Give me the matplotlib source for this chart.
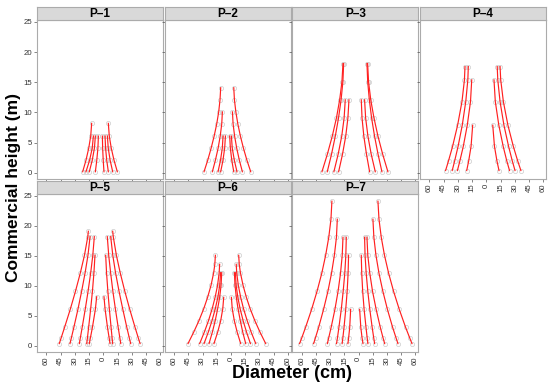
import numpy as np
import matplotlib
matplotlib.use("Agg")
import matplotlib.pyplot as plt

plt.rcParams['font.family'] = ['Liberation Sans', 'DejaVu Sans']

nan = np.nan

# ---------------- data (diameter in cm, mirrored left/right; height in m) ----------------
p1_h = [0.2, 2.1, 4.1, 6.1, 8.2]
p1_left = [
    [-21.8, -18.3, -15.4, -13.3, -12.3],
    [-18.3, -14.5, -11.7, -10.5, nan],
    [-14.8, -11.7, -9.4, -8.4, nan],
    [-8.4, -6.9, -5.7, -5.2, nan],
]
p1_right = [
    [0.7, -0.1, -0.7, -1.0, nan],
    [5.3, 3.6, 2.4, 1.8, nan],
    [9.9, 7.2, 5.2, 4.3, nan],
    [14.8, 11.3, 8.4, 6.3, 5.3],
]

p2_h = [0.2, 2.1, 4.1, 6.1, 8.1, 10.1, 12.1, 14.1]
p2_left = [
    [-28.5, -24.6, -21.0, -17.8, -15.1, -13.0, -11.6, -10.9],
    [-19.7, -16.5, -13.6, -11.4, -9.8, -9.1, nan, nan],
    [-13.7, -11.1, -9.2, -8.4, nan, nan, nan, nan],
    [-10.9, -8.5, -6.7, -5.9, nan, nan, nan, nan],
]
p2_right = [
    [2.9, 0.8, -0.7, -1.4, nan, nan, nan, nan],
    [6.3, 3.5, 1.3, 0.4, nan, nan, nan, nan],
    [12.0, 8.8, 6.0, 3.8, 2.2, 1.5, nan, nan],
    [20.8, 16.8, 13.1, 9.9, 7.2, 5.1, 3.6, 2.9],
]

p3_h = [0.2, 3.1, 6.1, 9.1, 12.1, 15.1, 18.1]
p3_left = [
    [-38.7, -33.0, -27.8, -23.4, -20.0, -17.6, -16.5],
    [-33.1, -28.6, -24.6, -21.2, -18.5, -16.6, -15.8],
    [-26.1, -21.6, -17.8, -15.3, -14.1, nan, nan],
    [-21.1, -17.0, -13.6, -11.3, -10.2, nan, nan],
]
p3_right = [
    [11.6, 8.3, 5.5, 3.6, 2.8, nan, nan],
    [17.6, 13.3, 9.8, 7.4, 6.3, nan, nan],
    [24.6, 20.5, 16.8, 13.7, 11.3, 9.6, 8.8],
    [30.9, 25.4, 20.4, 16.2, 12.8, 10.5, 9.5],
]

p4_h = [0.4, 2.0, 4.4, 7.9, 11.8, 15.4, 17.6]
p4_left = [
    [-43.0, -39.9, -35.6, -30.3, -25.7, -23.1, -22.5],
    [-36.0, -33.4, -29.8, -25.4, -21.7, -19.5, -19.0],
    [-30.5, -27.9, -24.3, -20.1, -16.7, -15.4, nan],
    [-20.7, -18.6, -16.1, -14.4, nan, nan, nan],
]
p4_right = [
    [13.4, 11.2, 8.6, 6.8, nan, nan, nan],
    [24.5, 21.6, 17.8, 13.2, 9.5, 8.1, nan],
    [30.3, 27.4, 23.5, 18.6, 14.5, 12.1, 11.5],
    [36.5, 33.1, 28.5, 22.8, 18.0, 15.2, 14.5],
]

p5_h = [0.4, 1.3, 3.1, 6.1, 8.2, 9.1, 12.2, 15.1, 18.2, 19.1]
p5_left = [
    [-46.5, -44.6, -40.9, -34.9, nan, -29.4, -24.2, -19.9, -16.4, -15.8],
    [-35.2, -33.8, -31.1, -26.8, nan, -22.9, -19.2, -16.2, -14.0, nan],
    [-25.3, -24.3, -22.3, -19.1, nan, -16.1, -13.3, -11.1, -9.5, nan],
    [-17.5, -16.8, -15.5, -13.4, nan, -11.5, -9.9, -8.8, nan, nan],
    [-14.8, -13.7, -11.5, -8.4, -7.0, nan, nan, nan, nan, nan],
]
p5_right = [
    [7.1, 6.2, 4.4, 1.9, 0.7, nan, nan, nan, nan, nan],
    [9.9, 9.3, 8.2, 6.4, nan, 4.8, 3.4, 2.5, nan, nan],
    [18.4, 17.5, 15.7, 12.8, nan, 10.1, 7.7, 5.7, 4.2, nan],
    [28.9, 27.5, 24.8, 20.6, nan, 16.6, 12.9, 10.0, 7.8, nan],
    [38.8, 37.0, 33.5, 27.9, nan, 22.7, 17.8, 13.8, 10.5, 9.9],
]

p6_h = [0.4, 2.3, 4.2, 6.2, 8.1, 10.1, 12.2, 13.6, 15.1]
p6_left = [
    [-45.4, -39.4, -33.9, -28.8, -24.7, -21.1, -18.3, -17.1, -16.5],
    [-33.1, -28.2, -23.8, -19.9, -16.8, -14.2, -12.5, -12.0, nan],
    [-28.5, -24.0, -20.1, -16.6, -13.9, -11.9, -11.0, nan, nan],
    [-23.2, -19.7, -16.7, -14.1, -12.0, -10.5, -9.8, nan, nan],
    [-18.0, -14.1, -10.9, -8.7, -7.7, nan, nan, nan, nan],
]
p6_right = [
    [10.2, 6.5, 3.5, 1.3, 0.4, nan, nan, nan, nan],
    [15.5, 12.4, 9.8, 7.4, 5.6, 4.2, 3.6, nan, nan],
    [20.5, 16.4, 12.8, 9.6, 7.2, 5.4, 4.6, nan, nan],
    [26.1, 21.3, 17.1, 13.2, 10.2, 7.7, 6.0, 5.5, nan],
    [36.6, 30.6, 25.2, 20.2, 16.2, 12.7, 9.9, 8.7, 8.1],
]

p7_h = [0.4, 1.4, 3.1, 6.1, 9.1, 12.1, 15.1, 18.1, 21.1, 24.1]
p7_left = [
    [-62.3, -59.9, -56.0, -49.6, -43.9, -38.9, -34.8, -31.5, -29.2, -28.2],
    [-47.5, -45.5, -42.2, -37.0, -32.4, -28.6, -25.6, -23.4, -22.5, nan],
    [-33.0, -31.5, -29.0, -25.0, -21.7, -19.1, -17.3, -16.5, nan, nan],
    [-23.3, -22.3, -20.8, -18.3, -16.3, -14.6, -13.5, -13.0, nan, nan],
    [-17.4, -16.6, -15.4, -13.6, -12.1, -11.1, -10.6, nan, nan, nan],
    [-11.3, -10.5, -9.4, -8.4, nan, nan, nan, nan, nan, nan],
]
p7_right = [
    [4.6, 3.6, 2.3, 1.1, nan, nan, nan, nan, nan, nan],
    [9.8, 9.0, 7.8, 5.8, 4.3, 3.3, 2.8, nan, nan, nan],
    [16.9, 15.9, 14.3, 11.8, 9.7, 8.0, 6.8, 6.3, nan, nan],
    [27.5, 25.7, 22.9, 18.5, 14.7, 11.8, 9.7, 8.8, nan, nan],
    [41.5, 39.4, 35.9, 30.4, 25.6, 21.5, 18.3, 16.1, 15.1, nan],
    [56.3, 53.8, 49.6, 42.9, 36.9, 31.7, 27.3, 23.9, 21.5, 20.4],
]

panel_names = ['P–1', 'P–2', 'P–3', 'P–4', 'P–5', 'P–6', 'P–7']
panel_data = [
    (p1_h, p1_left, p1_right), (p2_h, p2_left, p2_right),
    (p3_h, p3_left, p3_right), (p4_h, p4_left, p4_right),
    (p5_h, p5_left, p5_right), (p6_h, p6_left, p6_right),
    (p7_h, p7_left, p7_right),
]

x_ticks = [-60, -45, -30, -15, 0, 15, 30, 45, 60]
x_ticklabels = ['60', '45', '30', '15', '0', '15', '30', '45', '60']
y_ticks = [0, 5, 10, 15, 20, 25]

# ---------------- figure ----------------
W, H = 550, 387
fig = plt.figure(figsize=(W / 100, H / 100), dpi=100)

border = '#ABABAB'
strip_fill = '#D9D9D9'
line_red = '#FF2020'
circ = '#CFCFCF'
tick_col = '#333333'

col_left = [37, 164.7, 292.3, 420]
pw = 126
rows = [(20, 179, 6.5), (194, 352, 180.5)]  # (plot top, plot bottom, strip top)

for i, name in enumerate(panel_names):
    r, c = divmod(i, 4)
    top, bot, stop = rows[r]
    x0 = col_left[c]
    ax = fig.add_axes([x0 / W, (H - bot) / H, pw / W, (bot - top) / H])
    sax = fig.add_axes([x0 / W, (H - top) / H, pw / W, (top - stop) / H])
    sax.set_facecolor(strip_fill)
    sax.set_xticks([]); sax.set_yticks([])
    for s in sax.spines.values():
        s.set_color(border); s.set_linewidth(0.8)
    sax.text(0.5, 0.45, name, ha='center', va='center', fontsize=8.5,
             fontweight='bold', transform=sax.transAxes)

    hts, left, right = panel_data[i]
    hts = np.array(hts)
    for tree in left + right:
        x = np.array(tree, dtype=float)
        m = ~np.isnan(x)
        ax.plot(x[m], hts[m], 'o', mfc='none', mec=circ, ms=3.0, mew=0.55, zorder=1)
        ax.plot(x[m], hts[m], '-', color=line_red, lw=0.85, zorder=2)

    ax.set_xlim(-70, 63)
    ax.set_ylim(-1.0, 25.3)
    for s in ax.spines.values():
        s.set_color(border); s.set_linewidth(0.8)
    ax.set_xticks(x_ticks)
    ax.set_yticks(y_ticks)
    ax.tick_params(axis='both', length=2, width=0.5, color='#555555',
                   labelsize=5.6, labelcolor=tick_col, pad=1.5)
    if c == 0:
        ax.set_yticklabels([str(v) for v in y_ticks])
    else:
        ax.tick_params(axis='y', labelleft=False)
    if r == 1 or c == 3:
        ax.set_xticklabels(x_ticklabels, rotation=90)
    else:
        ax.tick_params(axis='x', labelbottom=False)

fig.text(14 / W, (H - 187) / H, 'Commercial height (m)', rotation=90,
         ha='center', va='center', fontsize=12.5, fontweight='bold')
fig.text(291.5 / W, (H - 373) / H, 'Diameter (cm)', ha='center', va='center',
         fontsize=13, fontweight='bold')

fig.savefig('out.png', dpi=100)
